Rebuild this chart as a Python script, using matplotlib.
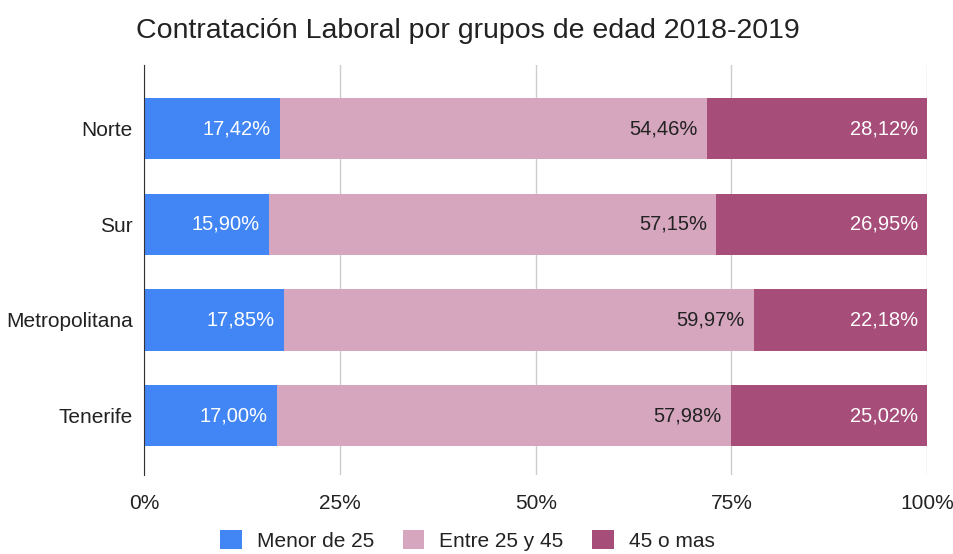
import matplotlib
matplotlib.use("Agg")
import matplotlib.pyplot as plt
import numpy as np

plt.rcParams['font.family'] = ['Liberation Sans', 'DejaVu Sans']

regiones = ['Norte', 'Sur', 'Metropolitana', 'Tenerife']
menor25 = [17.42, 15.90, 17.85, 17.00]
entre25_45 = [54.46, 57.15, 59.97, 57.98]
mayor45 = [28.12, 26.95, 22.18, 25.02]
series = ['Menor de 25', 'Entre 25 y 45', '45 o mas']
colores = ['#4285F4', '#D5A6BD', '#A64D79']
color_texto = ['white', '#222222', 'white']

fig = plt.figure(figsize=(9.54, 5.54), dpi=100)
ax = fig.add_axes([0.151, 0.143, 0.821, 0.740])

y = np.arange(len(regiones))
left = np.zeros(len(regiones))
for nombre, vals, col, tc in zip(series, [menor25, entre25_45, mayor45], colores, color_texto):
    vals = np.array(vals)
    ax.barh(y, vals, left=left, height=0.64, color=col, label=nombre, zorder=3)
    for yi, l, v in zip(y, left, vals):
        ax.text(l + v - 1.2, yi, f"{v:.2f}%".replace('.', ','), ha='right', va='center',
                color=tc, fontsize=14.5, zorder=4)
    left += vals

ax.set_xlim(0, 100)
ax.set_ylim(3.62, -0.67)
ax.set_yticks(y)
ax.set_yticklabels(regiones, fontsize=15, color='#222222')
ax.set_xticks([0, 25, 50, 75, 100])
ax.set_xticklabels(['0%', '25%', '50%', '75%', '100%'], fontsize=15, color='#222222')
ax.tick_params(axis='both', length=0)
ax.tick_params(axis='x', pad=14)
ax.tick_params(axis='y', pad=8)
ax.grid(axis='x', color='#cccccc', linewidth=1, zorder=0)
for s in ['top', 'right', 'bottom']:
    ax.spines[s].set_visible(False)
ax.spines['left'].set_color('#333333')
ax.spines['left'].set_zorder(5)

fig.suptitle('Contratación Laboral por grupos de edad 2018-2019', x=0.49, y=0.968,
             fontsize=20.5, color='#222222')
fig.legend(loc='lower center', bbox_to_anchor=(0.49, -0.028), ncol=3, frameon=False,
           fontsize=15, handlelength=1.05, handleheight=1.05, columnspacing=1.35,
           handletextpad=0.72, labelcolor='#222222')

fig.savefig('out.png', dpi=100)
